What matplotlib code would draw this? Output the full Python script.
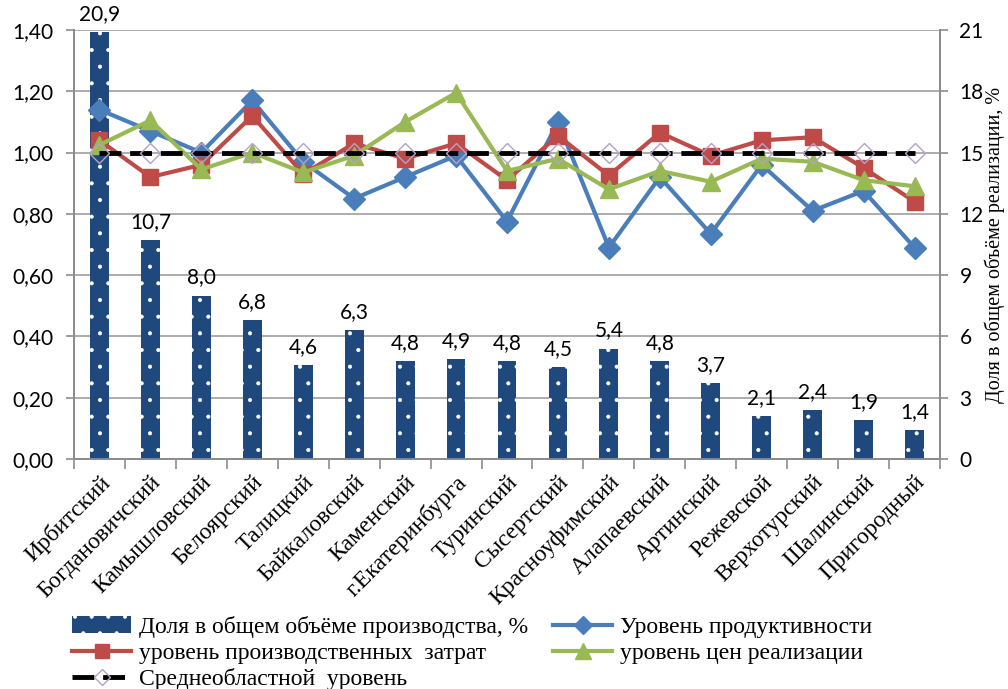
import matplotlib
matplotlib.use("Agg")
import matplotlib.pyplot as plt
import numpy as np
from matplotlib.ticker import FixedLocator, FuncFormatter

plt.rcParams['hatch.color'] = 'white'
plt.rcParams['hatch.linewidth'] = 0.5

districts = ["Ирбитский", "Богдановичский", "Камышловский", "Белоярский", "Талицкий",
             "Байкаловский", "Каменский", "г.Екатеринбурга", "Туринский", "Сысертский",
             "Красноуфимский", "Алапаевский", "Артинский", "Режевской", "Верхотурский",
             "Шалинский", "Пригородный"]
share = [20.9, 10.7, 8.0, 6.8, 4.6, 6.3, 4.8, 4.9, 4.8, 4.5, 5.4, 4.8, 3.7, 2.1, 2.4, 1.9, 1.4]
productivity = [1.14, 1.07, 1.00, 1.17, 0.97, 0.85, 0.92, 0.99, 0.775, 1.10, 0.69, 0.92,
                0.735, 0.96, 0.81, 0.875, 0.69]
costs = [1.04, 0.92, 0.96, 1.12, 0.93, 1.03, 0.98, 1.03, 0.91, 1.055, 0.925, 1.065,
         0.99, 1.04, 1.05, 0.95, 0.84]
prices = [1.025, 1.105, 0.945, 1.00, 0.935, 0.99, 1.10, 1.195, 0.94, 0.98, 0.88, 0.94,
          0.905, 0.98, 0.97, 0.91, 0.89]
average = [1.0] * 17

left_ticks = [0.0, 0.2, 0.4, 0.6, 0.8, 1.0, 1.2, 1.4]
right_ticks = [0, 3, 6, 9, 12, 15, 18, 21]

num_font = "Lato"
serif = "Liberation Serif"
grey = "#8C8C8C"

fig = plt.figure(figsize=(10.08, 6.89), dpi=100)
ax = fig.add_axes([74/1008, 1-459/689, (940-74)/1008, (459-30)/689])
ax2 = ax.twinx()
ax.set_zorder(ax2.get_zorder() + 1)
ax.patch.set_visible(False)

x = np.arange(len(districts))

# bars on right axis
bars = ax2.bar(x, share, width=0.37, color="#1F497D", hatch='.', edgecolor="white",
               linewidth=0, zorder=3, label="Доля в общем объёме производства, %")
for xi, v in zip(x, share):
    ax2.text(xi, v + 0.4, f"{v:.1f}".replace('.', ','), ha='center', va='bottom',
             fontsize=15, family=num_font, zorder=4, clip_on=False)
ax2.set_ylim(0, 21)
ax2.yaxis.set_major_locator(FixedLocator(right_ticks))
ax2.grid(axis='y', color="#A6A6A6", linewidth=1.3, zorder=0)
ax2.set_axisbelow(True)

# lines on left axis
lw = 3.0
l_prod, = ax.plot(x, productivity, color="#4A7EBB", lw=lw, marker='D', markersize=11,
                  label="Уровень продуктивности", zorder=5)
l_cost, = ax.plot(x, costs, color="#BE4B48", lw=lw, marker='s', markersize=12,
                  label="уровень производственных  затрат", zorder=6)
l_price, = ax.plot(x, prices, color="#98B954", lw=lw, marker='^', markersize=13,
                   label="уровень цен реализации", zorder=7)
l_avg, = ax.plot(x, average, color="black", lw=3.5, dashes=(4.5, 1.8),
                 marker='D', markersize=10, markerfacecolor='none',
                 markeredgecolor="#B3A2C7", markeredgewidth=1.0,
                 label="Среднеобластной  уровень", zorder=8)

ax.set_ylim(0, 1.4)
ax.set_xlim(-0.5, len(districts) - 0.5)
ax.yaxis.set_major_locator(FixedLocator(left_ticks))
ax.yaxis.set_major_formatter(FuncFormatter(lambda v, p: f"{v:.2f}".replace('.', ',')))

ax.set_xticks(x)
ax.set_xticklabels(districts, rotation=45, ha='right', rotation_mode='anchor',
                   family=serif, fontsize=17)
ax.set_xticks(np.arange(-0.5, len(districts)), minor=True)
ax.tick_params(axis='x', which='major', length=0, pad=9)
ax.tick_params(axis='x', which='minor', length=7, color=grey, width=1.2)
ax.tick_params(axis='y', length=6, color=grey, width=1.2, labelsize=15, pad=9)
for lab in ax.get_yticklabels():
    lab.set_family(num_font)
ax2.tick_params(axis='y', length=6, color=grey, width=1.2, labelsize=15, pad=8)
for lab in ax2.get_yticklabels():
    lab.set_family(num_font)

for a in (ax, ax2):
    for s in a.spines.values():
        s.set_color(grey)
        s.set_linewidth(1.3)
    a.spines['top'].set_visible(False)

ax2.set_ylabel("Доля в общем объёме реализации, %", family=serif, fontsize=14.5)
ax2.yaxis.set_label_coords((985 - 74) / 866, 0.5)

handles = [bars, l_cost, l_avg, l_prod, l_price]
labels = [h.get_label() for h in handles]
leg = fig.legend(handles, labels, ncol=2, loc='upper left',
                 bbox_to_anchor=(72/1008, 1 - 616/689),
                 frameon=False, prop={'family': serif, 'size': 17}, handlelength=2.5,
                 handletextpad=0.35, columnspacing=1.05, labelspacing=0.18,
                 borderaxespad=0, borderpad=0, markerscale=0.85)

fig.savefig("out.png", dpi=100)
